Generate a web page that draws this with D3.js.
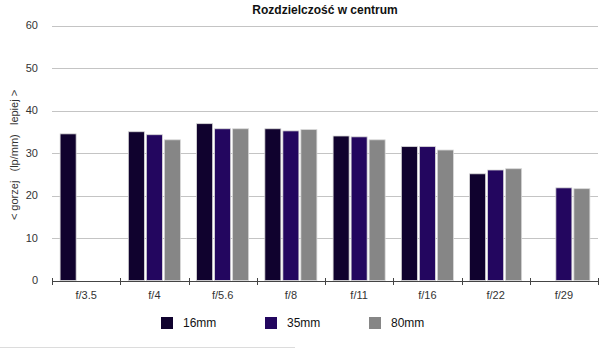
<!DOCTYPE html>
<html><head><meta charset="utf-8">
<script src="https://cdn.jsdelivr.net/npm/d3@7"></script>
<style>body{margin:0;background:#fff}svg{display:block}text{font-family:"Liberation Sans",Arial,sans-serif}</style>
</head><body><svg id="c" width="605" height="349"></svg>
<script>
const categories = ["f/3.5","f/4","f/5.6","f/8","f/11","f/16","f/22","f/29"];
const seriesNames = ["16mm","35mm","80mm"];
const s16 = [34.5, 35.0, 36.9, 35.7, 34.0, 31.5, 25.1, null];
const s35 = [null, 34.3, 35.7, 35.2, 33.8, 31.5, 26.0, 21.8];
const s80 = [null, 33.1, 35.7, 35.5, 33.1, 30.7, 26.3, 21.6];
const yTicks = [0,10,20,30,40,50,60];
const colors = ["#10022e","#23065f","#868686"];
const title = "Rozdzielczość w centrum";
const yLabel = "< gorzej   (lp/mm)   lepiej >";

const series = [s16, s35, s80];
const svg = d3.select("#c");
const x = d3.scaleBand().domain(categories).range([52, 598]).paddingInner(0).paddingOuter(0);
const y = d3.scaleLinear().domain([0, 60]).range([280.5, 25.5]);
const inner = d3.scaleBand().domain(seriesNames).range([0, x.bandwidth()]).paddingOuter(0.45).paddingInner(0.11);

// gridlines
svg.append("g").selectAll("line").data(yTicks.filter(d => d > 0)).join("line")
  .attr("x1", 52).attr("x2", 598)
  .attr("y1", d => Math.round(y(d)) + 0.5).attr("y2", d => Math.round(y(d)) + 0.5)
  .attr("stroke", "#c4c4c4").attr("stroke-width", 1);

// y tick labels
svg.append("g").selectAll("text").data(yTicks).join("text")
  .attr("x", 38).attr("y", d => y(d)).attr("dy", "0.35em")
  .attr("text-anchor", "end").attr("font-size", 11).attr("fill", "#333")
  .text(d => d);

// bars
series.forEach((vals, si) => {
  svg.append("g").selectAll("rect")
    .data(categories.map((c, i) => ({c, v: vals[i]})).filter(d => d.v != null))
    .join("rect")
    .attr("x", d => x(d.c) + inner(seriesNames[si]))
    .attr("width", inner.bandwidth())
    .attr("y", d => y(d.v))
    .attr("height", d => y(0) - y(d.v))
    .attr("fill", colors[si])
    .attr("stroke", "#d8d8d8").attr("stroke-width", 0.8);
});

// x axis
const xAxis = d3.axisBottom(x).tickSize(0).tickPadding(10);
const gx = svg.append("g").attr("transform", `translate(0,${Math.round(y(0))})`).call(xAxis);
gx.select(".domain").attr("stroke", "#444").attr("d", "M52,0.5H598");
gx.selectAll(".tick text").attr("font-size", 11).attr("fill", "#333").attr("font-family", "Liberation Sans, Arial, sans-serif");
// boundary ticks
const bounds = categories.map(c => x(c)).concat([x(categories[categories.length-1]) + x.bandwidth()]);
gx.append("g").selectAll("line").data(bounds).join("line")
  .attr("x1", d => Math.round(d) + 0.5).attr("x2", d => Math.round(d) + 0.5)
  .attr("y1", -3).attr("y2", 4).attr("stroke", "#444");

// title
svg.append("text").attr("x", 325).attr("y", 14).attr("text-anchor", "middle")
  .attr("font-size", 12).attr("font-weight", "bold").attr("fill", "#111").text(title);

// y label
svg.append("text").attr("transform", "translate(18,155) rotate(-90)")
  .attr("text-anchor", "middle").attr("font-size", 11).attr("fill", "#333")
  .attr("xml:space", "preserve").style("white-space", "pre").text(yLabel);

// legend
const lg = svg.append("g").selectAll("g").data(seriesNames).join("g")
  .attr("transform", (d, i) => `translate(${161 + i * 104},317)`);
lg.append("rect").attr("width", 12).attr("height", 12).attr("fill", (d, i) => colors[i]);
lg.append("text").attr("x", 22).attr("y", 6).attr("dy", "0.36em").attr("font-size", 12).attr("fill", "#111").text(d => d);

// bottom faint line
svg.append("line").attr("x1", 0).attr("x2", 295).attr("y1", 347.5).attr("y2", 347.5).attr("stroke", "#dcdcdc");
</script></body></html>
